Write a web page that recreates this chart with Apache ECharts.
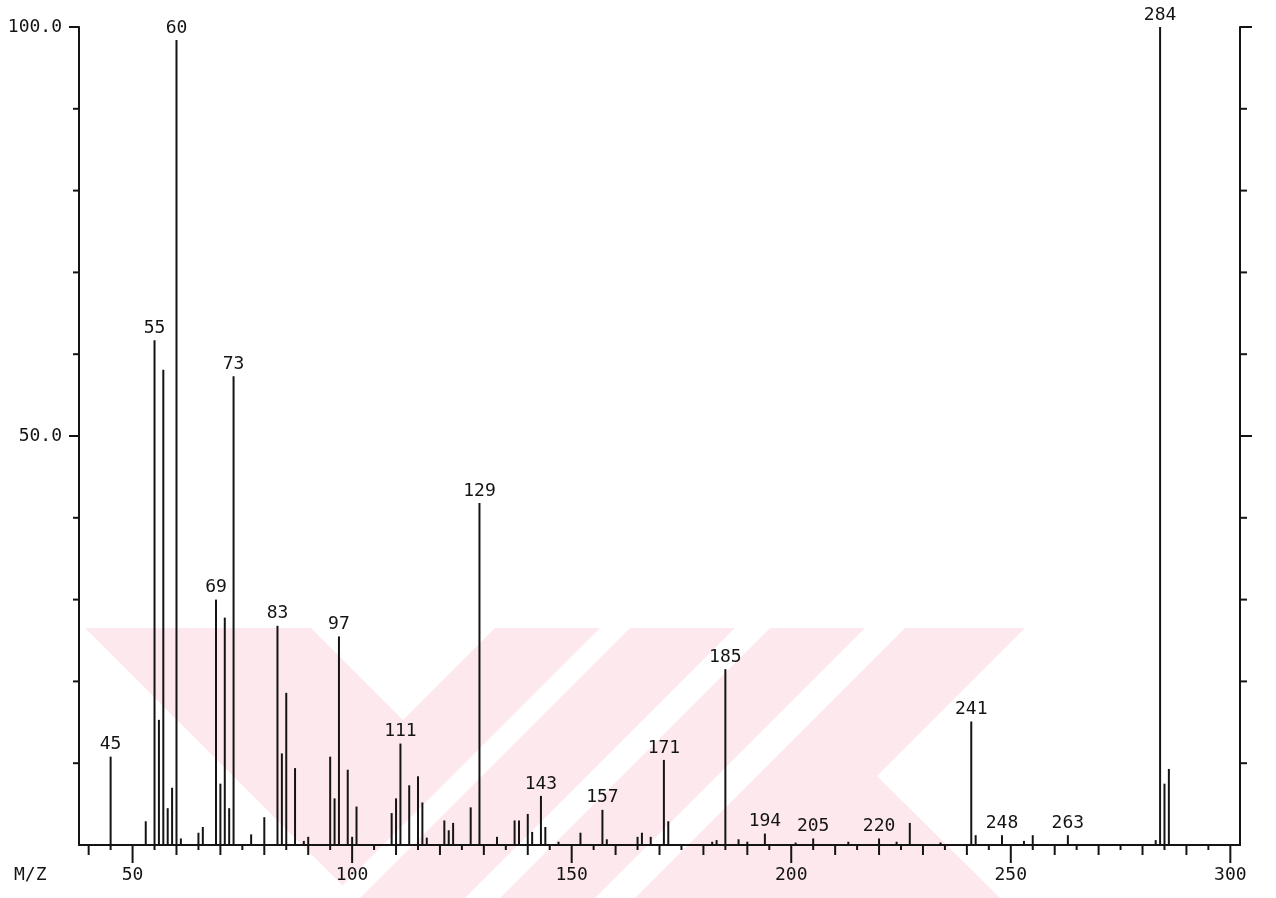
<!DOCTYPE html>
<html>
<head>
<meta charset="utf-8">
<script src="https://cdn.jsdelivr.net/npm/echarts@6/dist/echarts.min.js"></script>
<style>
  html, body { margin: 0; padding: 0; background: #ffffff; }
  #chart { width: 1276px; height: 898px; }
</style>
</head>
<body>
<div id="chart"></div>
<script>
// Mass spectrum: m/z positions and relative intensities (%)
const massToCharge = [
  45, 53, 55, 56, 57, 58, 59, 60, 61, 65, 66, 69, 70, 71, 72, 73, 77, 80,
  83, 84, 85, 87, 89, 90, 95, 96, 97, 99, 100, 101, 109, 110, 111, 113, 115,
  116, 117, 121, 122, 123, 127, 129, 133, 137, 138, 140, 141, 143, 144, 147,
  152, 157, 158, 165, 166, 168, 171, 172, 182, 183, 185, 188, 190, 194, 201,
  205, 213, 220, 224, 227, 234, 241, 242, 248, 253, 255, 263, 283, 284, 285, 286
];
const relativeIntensity = [
  10.8, 2.9, 61.7, 15.3, 58.1, 4.5, 7.0, 98.4, 0.8, 1.5, 2.2, 30.0, 7.5, 27.8, 4.5, 57.3, 1.3, 3.4,
  26.8, 11.2, 18.6, 9.4, 0.5, 1.0, 10.8, 5.7, 25.5, 9.2, 1.0, 4.7, 3.9, 5.7, 12.4, 7.3, 8.4,
  5.2, 0.9, 3.0, 1.8, 2.7, 4.6, 41.8, 1.0, 3.0, 3.0, 3.8, 1.6, 6.0, 2.2, 0.4,
  1.5, 4.3, 0.7, 1.0, 1.5, 1.0, 10.4, 2.9, 0.4, 0.6, 21.5, 0.7, 0.4, 1.4, 0.3,
  0.8, 0.4, 0.8, 0.4, 2.7, 0.3, 15.1, 1.2, 1.2, 0.5, 1.2, 1.2, 0.6, 100, 7.5, 9.3
];
// Peaks that carry their m/z as a label
const labelledPeaks = [45, 55, 60, 69, 73, 83, 97, 111, 129, 143, 157, 171, 185, 194, 205, 220, 241, 248, 263, 284];

// Axis ticks and labels
const xTickValues = [
  40, 45, 50, 55, 60, 65, 70, 75, 80, 85, 90, 95, 100, 105, 110, 115, 120, 125, 130, 135,
  140, 145, 150, 155, 160, 165, 170, 175, 180, 185, 190, 195, 200, 205, 210, 215, 220, 225,
  230, 235, 240, 245, 250, 255, 260, 265, 270, 275, 280, 285, 290, 295, 300
];
const xLabelValues = [50, 100, 150, 200, 250, 300];
const xLabelTexts = ['50', '100', '150', '200', '250', '300'];
const yTickValues = [10, 20, 30, 40, 50, 60, 70, 80, 90, 100];
const yLabelValues = [50, 100];
const axisTitle = 'M/Z';

const INK = '#141414';
const FONT = '"DejaVu Sans Mono", "Liberation Mono", monospace';
const X_MIN = 37.8, X_MAX = 302.2;

// Pale diagonal band pattern printed behind the lower part of the plot
const BAND_PINK = '#fde9ed';
const bandShape = [[85, 628], [1025, 628], [877, 776], [1000, 898], [355, 898]];
const bandGaps = [
  [[311, 628], [495, 628], [403, 720]],
  [[600, 628], [630, 628], [360, 898], [330, 898]],
  [[735, 628], [770, 628], [500, 898], [465, 898]],
  [[865, 628], [905, 628], [635, 898], [595, 898]]
];

const chart = echarts.init(document.getElementById('chart'), null, { renderer: 'canvas' });

const peakData = massToCharge.map((m, i) => [m, relativeIntensity[i]]);

function xTickLength(v) {
  if (v % 50 === 0) return 18;
  if (v % 10 === 0) return 10;
  return 5;
}

const backdrop = [
  { type: 'polygon', z: -10, silent: true, shape: { points: bandShape }, style: { fill: BAND_PINK } }
].concat(bandGaps.map(pts => ({
  type: 'polygon', z: -9, silent: true, shape: { points: pts }, style: { fill: '#ffffff' }
})));

const option = {
  animation: false,
  backgroundColor: '#ffffff',
  grid: { left: 79, right: 36, top: 27, bottom: 53 },
  xAxis: {
    type: 'value', min: X_MIN, max: X_MAX,
    axisLine: { show: true, lineStyle: { color: INK, width: 2 } },
    axisTick: { show: false }, axisLabel: { show: false }, splitLine: { show: false }
  },
  yAxis: [
    {
      type: 'value', min: 0, max: 100, interval: 50, position: 'left',
      axisLine: { show: true, lineStyle: { color: INK, width: 2 } },
      axisTick: { show: false },
      axisLabel: {
        show: true, margin: 17, color: INK, fontFamily: FONT, fontSize: 18,
        formatter: v => (yLabelValues.indexOf(v) >= 0 ? v.toFixed(1) : '')
      },
      splitLine: { show: false }
    },
    {
      type: 'value', min: 0, max: 100, interval: 50, position: 'right',
      axisLine: { show: true, lineStyle: { color: INK, width: 2 } },
      axisTick: { show: false }, axisLabel: { show: false }, splitLine: { show: false }
    }
  ],
  series: [
    {
      // spectrum sticks with their m/z labels
      type: 'custom',
      clip: false,
      data: peakData,
      renderItem: (params, api) => {
        const m = api.value(0), v = api.value(1);
        const top = api.coord([m, v]);
        const base = api.coord([m, 0]);
        const children = [{
          type: 'line',
          shape: { x1: top[0], y1: top[1], x2: base[0], y2: base[1] },
          style: { stroke: INK, lineWidth: 2 }
        }];
        if (labelledPeaks.indexOf(m) >= 0) {
          children.push({
            type: 'text', x: top[0], y: top[1] - 3,
            style: { text: String(m), fill: INK, font: '18px ' + FONT, align: 'center', verticalAlign: 'bottom' }
          });
        }
        return { type: 'group', children };
      }
    },
    {
      // ticks under the m/z axis
      type: 'custom',
      clip: false,
      data: xTickValues.map(v => [v, 0]),
      renderItem: (params, api) => {
        const v = api.value(0);
        const p = api.coord([v, 0]);
        return {
          type: 'line',
          shape: { x1: p[0], y1: p[1], x2: p[0], y2: p[1] + xTickLength(v) },
          style: { stroke: INK, lineWidth: 2 }
        };
      }
    },
    {
      // m/z axis labels
      type: 'custom',
      clip: false,
      data: xLabelValues.map((v, i) => [v, 0, i]),
      renderItem: (params, api) => {
        const p = api.coord([api.value(0), 0]);
        return {
          type: 'text', x: p[0], y: p[1] + 30,
          style: { text: xLabelTexts[api.value(2)], fill: INK, font: '18px ' + FONT, align: 'center', verticalAlign: 'middle' }
        };
      }
    },
    {
      // intensity ticks on both side axes
      type: 'custom',
      clip: false,
      data: yTickValues.map(v => [X_MIN, v]),
      renderItem: (params, api) => {
        const v = api.value(1);
        const left = api.coord([X_MIN, v]);
        const right = api.coord([X_MAX, v]);
        const major = v % 50 === 0;
        return {
          type: 'group',
          children: [
            { type: 'line', shape: { x1: left[0] - (major ? 10 : 6), y1: left[1], x2: left[0], y2: left[1] }, style: { stroke: INK, lineWidth: 2 } },
            { type: 'line', shape: { x1: right[0], y1: right[1], x2: right[0] + (major ? 12 : 7), y2: right[1] }, style: { stroke: INK, lineWidth: 2 } }
          ]
        };
      }
    }
  ],
  graphic: backdrop.concat([
    {
      type: 'text', left: 14, top: 866,
      style: { text: axisTitle, fill: INK, font: '18px ' + FONT }
    }
  ])
};

chart.setOption(option);
</script>
</body>
</html>
